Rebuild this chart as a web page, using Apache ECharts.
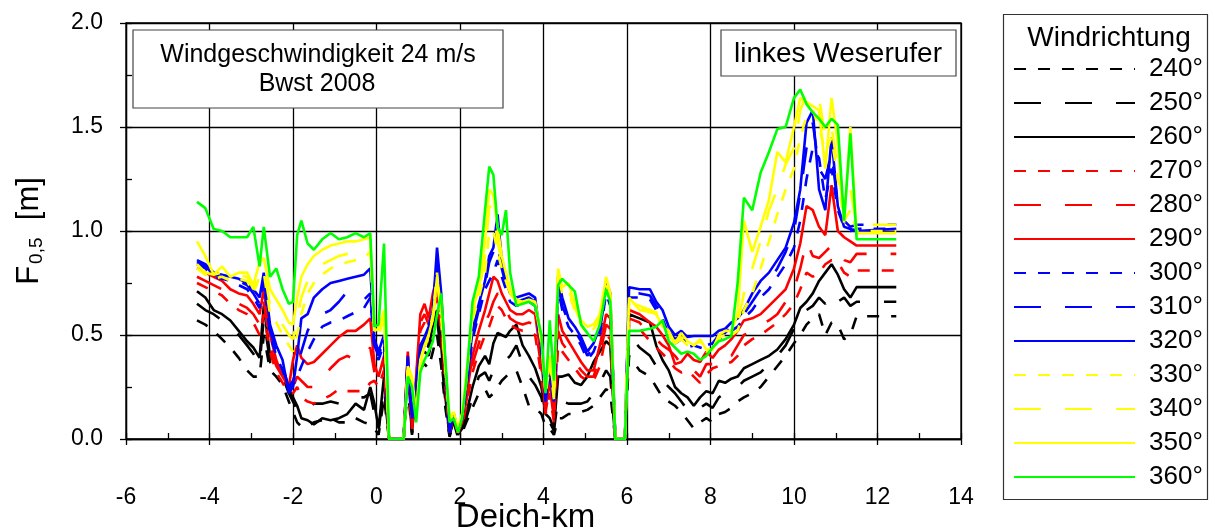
<!DOCTYPE html>
<html>
<head>
<meta charset="utf-8">
<script src="https://cdn.jsdelivr.net/npm/echarts@6/dist/echarts.min.js"></script>
<style>
  html, body { margin: 0; padding: 0; background: #fff; }
  #chart { width: 1215px; height: 529px; }
</style>
</head>
<body>
<div id="chart"></div>
<script>
// Deich-km stations
const km = [
  -4.3, -4.1, -3.9, -3.7, -3.5, -3.3, -3.1, -2.95, -2.8, -2.7,
  -2.55, -2.4, -2.25, -2.1, -2.0, -1.9, -1.8, -1.65, -1.5, -1.3,
  -1.1, -0.9, -0.7, -0.5, -0.3, -0.15, -0.05, 0.05, 0.18, 0.3,
  0.65, 0.75, 0.85, 0.95, 1.05, 1.15, 1.25, 1.35, 1.45, 1.55,
  1.65, 1.75, 1.85, 1.95, 2.05, 2.15, 2.3, 2.45, 2.6, 2.7,
  2.8, 2.9, 3.0, 3.1, 3.2, 3.35, 3.5, 3.65, 3.8, 3.95,
  4.05, 4.15, 4.25, 4.35, 4.45, 4.6, 4.75, 4.9, 5.05, 5.2,
  5.35, 5.5, 5.6, 5.72, 5.95, 6.05, 6.3, 6.55, 6.7, 6.85,
  7.0, 7.15, 7.3, 7.45, 7.6, 7.75, 7.9, 8.05, 8.2, 8.35,
  8.5, 8.65, 8.8, 9.0, 9.2, 9.4, 9.6, 9.8, 10.0, 10.15,
  10.3, 10.45, 10.6, 10.75, 10.9, 11.05, 11.2, 11.35, 11.5, 12.45
];

// F0,5 [m] per wind direction
const f240 = [
  0.57, 0.55, 0.52, 0.48, 0.44, 0.39, 0.33, 0.30, 0.30, 0.50,
  0.33, 0.30, 0.26, 0.18, 0.13, 0.08, 0.06, 0.06, 0.08, 0.09,
  0.10, 0.08, 0.08, 0.10, 0.08, 0.07, 0.05, 0.02, 0.20, 0,
  0, 0.25, 0.02, 0.16, 0.34, 0.36, 0.34, 0.42, 0.50, 0.35,
  0.15, 0.01, 0.08, 0.01, 0.03, 0.08, 0.15, 0.22, 0.24, 0.20,
  0.22, 0.25, 0.28, 0.30, 0.32, 0.33, 0.25, 0.16, 0.15, 0.12,
  0.06, 0.05, 0.02, 0.10, 0.10, 0.12, 0.12, 0.13, 0.14, 0.16,
  0.20, 0.24, 0.22, 0, 0, 0.40, 0.33, 0.30, 0.25, 0.20,
  0.18, 0.16, 0.13, 0.09, 0.05, 0.08, 0.10, 0.08, 0.12, 0.13,
  0.15, 0.18, 0.20, 0.22, 0.25, 0.30, 0.35, 0.40, 0.46, 0.50,
  0.55, 0.58, 0.60, 0.50, 0.56, 0.55, 0.48, 0.50, 0.59, 0.59
];
const f250 = [
  0.65, 0.62, 0.60, 0.57, 0.55, 0.50, 0.45, 0.41, 0.36, 0.58,
  0.37, 0.33, 0.30, 0.22, 0.18, 0.14, 0.12, 0.14, 0.17, 0.17,
  0.18, 0.17, 0.18, 0.20, 0.20, 0.22, 0.12, 0.04, 0.25, 0,
  0, 0.30, 0.03, 0.20, 0.40, 0.42, 0.40, 0.50, 0.58, 0.40,
  0.18, 0.02, 0.09, 0.02, 0.04, 0.10, 0.20, 0.30, 0.32, 0.28,
  0.33, 0.35, 0.36, 0.38, 0.40, 0.45, 0.36, 0.30, 0.26, 0.20,
  0.10, 0.08, 0.04, 0.20, 0.18, 0.17, 0.17, 0.17, 0.18, 0.22,
  0.27, 0.33, 0.30, 0, 0, 0.50, 0.44, 0.40, 0.35, 0.28,
  0.25, 0.22, 0.18, 0.14, 0.12, 0.15, 0.17, 0.15, 0.20, 0.22,
  0.24, 0.25, 0.28, 0.30, 0.32, 0.36, 0.40, 0.45, 0.53, 0.60,
  0.62, 0.64, 0.68, 0.65, 0.70, 0.66, 0.68, 0.64, 0.66, 0.66
];
const f260 = [
  0.71, 0.68, 0.62, 0.60, 0.57, 0.52, 0.47, 0.44, 0.39, 0.64,
  0.40, 0.36, 0.34, 0.24, 0.20, 0.16, 0.10, 0.09, 0.07, 0.10,
  0.09, 0.10, 0.12, 0.17, 0.14, 0.25, 0.17, 0.05, 0.30, 0,
  0, 0.35, 0.04, 0.22, 0.45, 0.48, 0.44, 0.55, 0.62, 0.45,
  0.20, 0.02, 0.10, 0.02, 0.05, 0.12, 0.25, 0.35, 0.40, 0.36,
  0.46, 0.51, 0.50, 0.49, 0.52, 0.55, 0.45, 0.40, 0.34, 0.25,
  0.12, 0.10, 0.05, 0.30, 0.30, 0.31, 0.27, 0.26, 0.30, 0.37,
  0.42, 0.47, 0.45, 0, 0, 0.60, 0.58, 0.56, 0.45, 0.38,
  0.33, 0.25, 0.22, 0.20, 0.16, 0.20, 0.23, 0.22, 0.28, 0.27,
  0.29, 0.30, 0.34, 0.36, 0.38, 0.40, 0.43, 0.48, 0.55, 0.63,
  0.66, 0.70, 0.76, 0.80, 0.84, 0.79, 0.72, 0.68, 0.73, 0.73
];
const f270 = [
  0.75, 0.73, 0.71, 0.69, 0.65, 0.62, 0.60, 0.56, 0.50, 0.60,
  0.42, 0.32, 0.27, 0.22, 0.22, 0.25, 0.20, 0.18, 0.17, 0.19,
  0.21, 0.24, 0.23, 0.23, 0.23, 0.27, 0.28, 0.25, 0.33, 0,
  0, 0.38, 0.05, 0.26, 0.52, 0.56, 0.52, 0.62, 0.68, 0.52,
  0.26, 0.03, 0.11, 0.03, 0.06, 0.16, 0.32, 0.42, 0.50, 0.54,
  0.60, 0.64, 0.62, 0.58, 0.55, 0.53, 0.52, 0.52, 0.50, 0.30,
  0.12, 0.22, 0.08, 0.45, 0.42, 0.38, 0.34, 0.30, 0.28, 0.28,
  0.35, 0.50, 0.48, 0, 0, 0.55, 0.53, 0.47, 0.44, 0.41,
  0.38, 0.34, 0.32, 0.33, 0.30, 0.27, 0.31, 0.34, 0.35, 0.36,
  0.37, 0.40, 0.45, 0.48, 0.50, 0.53, 0.56, 0.60, 0.65, 0.72,
  0.80, 0.78, 0.80, 0.84, 0.86, 0.85, 0.80, 0.78, 0.81, 0.81
];
const f280 = [
  0.78, 0.76, 0.74, 0.72, 0.68, 0.65, 0.63, 0.60, 0.55, 0.66,
  0.45, 0.35, 0.30, 0.24, 0.25, 0.30, 0.28, 0.25, 0.25, 0.29,
  0.34, 0.38, 0.40, 0.38, 0.40, 0.44, 0.32, 0.28, 0.36, 0,
  0, 0.40, 0.05, 0.28, 0.56, 0.60, 0.55, 0.66, 0.72, 0.56,
  0.28, 0.03, 0.12, 0.03, 0.07, 0.18, 0.36, 0.46, 0.56, 0.60,
  0.66, 0.70, 0.68, 0.62, 0.58, 0.56, 0.55, 0.56, 0.55, 0.34,
  0.13, 0.25, 0.10, 0.52, 0.46, 0.42, 0.37, 0.33, 0.30, 0.30,
  0.40, 0.55, 0.53, 0, 0, 0.58, 0.56, 0.50, 0.48, 0.45,
  0.43, 0.40, 0.36, 0.37, 0.33, 0.30, 0.36, 0.36, 0.40, 0.41,
  0.40, 0.45, 0.50, 0.52, 0.55, 0.57, 0.60, 0.66, 0.72, 0.82,
  0.95, 0.88, 0.87, 0.90, 0.93, 0.92, 0.86, 0.85, 0.89, 0.89
];
const f290 = [
  0.82, 0.80, 0.78, 0.76, 0.72, 0.70, 0.69, 0.65, 0.60, 0.72,
  0.50, 0.38, 0.30, 0.25, 0.38, 0.45, 0.39, 0.36, 0.37, 0.41,
  0.45, 0.49, 0.52, 0.52, 0.55, 0.58, 0.36, 0.30, 0.40, 0,
  0, 0.42, 0.05, 0.30, 0.60, 0.65, 0.58, 0.70, 0.78, 0.60,
  0.30, 0.03, 0.12, 0.03, 0.08, 0.20, 0.40, 0.52, 0.62, 0.70,
  0.78, 0.76, 0.70, 0.66, 0.62, 0.60, 0.60, 0.62, 0.60, 0.38,
  0.15, 0.28, 0.12, 0.60, 0.52, 0.47, 0.42, 0.37, 0.33, 0.33,
  0.45, 0.60, 0.58, 0, 0, 0.62, 0.60, 0.56, 0.54, 0.50,
  0.45, 0.36, 0.37, 0.41, 0.38, 0.37, 0.42, 0.39, 0.43, 0.45,
  0.48, 0.52, 0.57, 0.58, 0.60, 0.64, 0.68, 0.72, 0.82, 0.94,
  1.12, 1.10, 1.02, 0.98, 1.22, 1.00, 0.97, 0.95, 0.93, 0.93
];
const f300 = [
  0.84, 0.82, 0.78, 0.77, 0.76, 0.74, 0.72, 0.68, 0.63, 0.76,
  0.50, 0.40, 0.33, 0.24, 0.26, 0.30, 0.35, 0.42, 0.48, 0.54,
  0.56, 0.57, 0.59, 0.61, 0.63, 0.68, 0.43, 0.38, 0.46, 0,
  0, 0.37, 0.10, 0.24, 0.40, 0.45, 0.50, 0.58, 0.85, 0.64,
  0.32, 0.05, 0.12, 0.04, 0.10, 0.24, 0.48, 0.60, 0.72, 0.76,
  0.80, 0.86, 0.78, 0.72, 0.66, 0.64, 0.65, 0.66, 0.64, 0.42,
  0.18, 0.31, 0.16, 0.72, 0.62, 0.54, 0.50, 0.45, 0.38, 0.42,
  0.50, 0.70, 0.64, 0, 0, 0.68, 0.68, 0.67, 0.62, 0.58,
  0.50, 0.46, 0.48, 0.44, 0.45, 0.44, 0.43, 0.45, 0.48, 0.50,
  0.52, 0.54, 0.58, 0.62, 0.68, 0.72, 0.78, 0.84, 0.92, 1.05,
  1.25, 1.40, 1.35, 1.15, 1.30, 1.10, 1.02, 1.00, 1.01, 1.01
];
const f310 = [
  0.85, 0.83, 0.79, 0.78, 0.77, 0.76, 0.74, 0.70, 0.65, 0.78,
  0.52, 0.42, 0.35, 0.25, 0.28, 0.35, 0.42, 0.52, 0.58, 0.60,
  0.62, 0.66, 0.71, 0.69, 0.67, 0.70, 0.45, 0.40, 0.48, 0,
  0, 0.38, 0.10, 0.25, 0.42, 0.47, 0.52, 0.60, 0.88, 0.66,
  0.33, 0.05, 0.12, 0.04, 0.10, 0.25, 0.50, 0.62, 0.74, 0.85,
  0.90, 0.95, 0.82, 0.74, 0.68, 0.66, 0.67, 0.68, 0.66, 0.44,
  0.19, 0.33, 0.17, 0.74, 0.64, 0.56, 0.52, 0.47, 0.40, 0.44,
  0.52, 0.72, 0.66, 0, 0, 0.70, 0.70, 0.69, 0.64, 0.60,
  0.52, 0.48, 0.50, 0.46, 0.47, 0.46, 0.45, 0.46, 0.50, 0.51,
  0.54, 0.56, 0.60, 0.66, 0.72, 0.76, 0.82, 0.90, 1.00, 1.18,
  1.40, 1.52, 1.30, 1.25, 1.38, 1.12, 1.05, 1.02, 1.03, 1.03
];
const f320 = [
  0.86, 0.84, 0.80, 0.79, 0.78, 0.77, 0.75, 0.72, 0.68, 0.80,
  0.55, 0.45, 0.38, 0.22, 0.25, 0.40, 0.58, 0.60, 0.68, 0.72,
  0.75, 0.76, 0.77, 0.78, 0.79, 0.82, 0.48, 0.42, 0.50, 0,
  0, 0.40, 0.10, 0.27, 0.45, 0.49, 0.54, 0.62, 0.92, 0.70,
  0.35, 0.03, 0.12, 0.04, 0.10, 0.26, 0.52, 0.65, 0.76, 0.88,
  0.92, 1.08, 0.86, 0.76, 0.70, 0.68, 0.69, 0.70, 0.68, 0.45,
  0.20, 0.35, 0.18, 0.78, 0.68, 0.58, 0.54, 0.49, 0.42, 0.46,
  0.54, 0.76, 0.70, 0, 0, 0.73, 0.72, 0.72, 0.66, 0.62,
  0.54, 0.50, 0.52, 0.49, 0.495, 0.495, 0.495, 0.495, 0.52, 0.53,
  0.56, 0.58, 0.62, 0.70, 0.76, 0.80, 0.86, 0.92, 1.04, 1.20,
  1.52, 1.58, 1.20, 1.10, 1.45, 1.12, 1.02, 1.01, 1.00, 1.01
];
const f330 = [
  0.82, 0.79, 0.77, 0.78, 0.76, 0.77, 0.76, 0.70, 0.78, 0.80,
  0.60, 0.56, 0.50, 0.45, 0.42, 0.50, 0.60, 0.70, 0.75, 0.79,
  0.82, 0.84, 0.85, 0.86, 0.87, 0.90, 0.50, 0.50, 0.58, 0,
  0, 0.33, 0.27, 0.11, 0.36, 0.43, 0.50, 0.60, 0.80, 0.58,
  0.33, 0.09, 0.12, 0.04, 0.11, 0.28, 0.57, 0.68, 0.80, 1.00,
  1.00, 0.90, 0.82, 0.76, 0.70, 0.66, 0.65, 0.66, 0.65, 0.46,
  0.21, 0.36, 0.19, 0.79, 0.70, 0.70, 0.62, 0.55, 0.50, 0.53,
  0.57, 0.74, 0.68, 0, 0, 0.65, 0.63, 0.62, 0.60, 0.55,
  0.50, 0.47, 0.49, 0.46, 0.45, 0.47, 0.44, 0.44, 0.48, 0.49,
  0.50, 0.52, 0.62, 0.70, 0.82, 0.95, 1.08, 1.20, 1.30, 1.45,
  1.55, 1.58, 1.50, 1.38, 1.45, 1.25, 1.05, 1.10, 1.00, 1.00
];
const f340 = [
  0.84, 0.80, 0.79, 0.80, 0.78, 0.79, 0.78, 0.72, 0.80, 0.82,
  0.64, 0.60, 0.55, 0.50, 0.48, 0.58, 0.68, 0.76, 0.80, 0.84,
  0.86, 0.88, 0.89, 0.90, 0.91, 0.93, 0.50, 0.50, 0.60, 0,
  0, 0.33, 0.28, 0.12, 0.37, 0.44, 0.50, 0.58, 0.76, 0.60,
  0.34, 0.10, 0.13, 0.05, 0.12, 0.30, 0.60, 0.70, 0.88, 1.12,
  1.10, 0.95, 0.85, 0.78, 0.70, 0.66, 0.65, 0.66, 0.65, 0.47,
  0.22, 0.38, 0.20, 0.80, 0.72, 0.72, 0.63, 0.56, 0.52, 0.54,
  0.58, 0.76, 0.69, 0, 0, 0.66, 0.64, 0.62, 0.61, 0.55,
  0.50, 0.46, 0.48, 0.45, 0.44, 0.46, 0.42, 0.43, 0.49, 0.50,
  0.51, 0.55, 0.70, 0.82, 0.95, 1.10, 1.20, 1.32, 1.40, 1.58,
  1.66, 1.66, 1.64, 1.45, 1.50, 1.30, 1.10, 1.20, 1.03, 1.03
];
const f350 = [
  0.95, 0.88, 0.79, 0.83, 0.78, 0.80, 0.80, 0.74, 0.85, 0.87,
  0.72, 0.67, 0.62, 0.56, 0.55, 0.68, 0.78, 0.84, 0.88, 0.91,
  0.93, 0.94, 0.95, 0.95, 0.96, 0.97, 0.52, 0.53, 0.62, 0,
  0, 0.35, 0.30, 0.12, 0.38, 0.45, 0.50, 0.58, 0.78, 0.62,
  0.35, 0.10, 0.13, 0.05, 0.12, 0.30, 0.62, 0.72, 0.95, 1.20,
  1.17, 1.02, 0.88, 0.80, 0.72, 0.67, 0.66, 0.67, 0.66, 0.48,
  0.23, 0.40, 0.22, 0.82, 0.73, 0.75, 0.65, 0.57, 0.54, 0.55,
  0.60, 0.78, 0.70, 0, 0, 0.68, 0.62, 0.61, 0.60, 0.54,
  0.52, 0.46, 0.51, 0.47, 0.45, 0.48, 0.43, 0.43, 0.50, 0.52,
  0.52, 0.60, 1.05, 0.90, 1.02, 1.15, 1.38, 1.33, 1.50, 1.64,
  1.62, 1.60, 1.58, 1.30, 1.64, 1.42, 1.04, 1.50, 0.99, 0.99
];
const f360 = [
  1.14, 1.11, 1.01, 1.00, 0.97, 0.97, 0.97, 1.02, 0.83, 1.02,
  0.78, 0.82, 0.72, 0.65, 0.66, 0.98, 1.05, 0.94, 0.91, 0.96,
  0.99, 0.96, 0.97, 0.99, 0.97, 0.99, 0.54, 0.55, 0.94, 0,
  0, 0.30, 0.25, 0.08, 0.32, 0.38, 0.42, 0.47, 0.60, 0.70,
  0.38, 0.08, 0.10, 0.03, 0.10, 0.28, 0.66, 0.78, 1.10, 1.31,
  1.27, 1.02, 0.98, 1.10, 0.80, 0.64, 0.65, 0.66, 0.64, 0.50,
  0.22, 0.57, 0.28, 0.74, 0.77, 0.74, 0.71, 0.55, 0.51, 0.47,
  0.55, 0.72, 0.66, 0, 0, 0.52, 0.52, 0.53, 0.54, 0.57,
  0.47, 0.44, 0.41, 0.42, 0.41, 0.38, 0.40, 0.44, 0.47, 0.48,
  0.495, 0.75, 1.16, 1.10, 1.28, 1.38, 1.49, 1.50, 1.64, 1.68,
  1.61, 1.57, 1.54, 1.50, 1.54, 1.51, 1.05, 1.47, 0.96, 0.96
];

const directions = ['240°', '250°', '260°', '270°', '280°', '290°', '300°',
                    '310°', '320°', '330°', '340°', '350°', '360°'];
const values = [f240, f250, f260, f270, f280, f290, f300,
                f310, f320, f330, f340, f350, f360];
const yTicks = ['0.0', '0.5', '1.0', '1.5', '2.0'];

// line styles: colour group per 30°, dash pattern within the group
const palette = ['#000000', '#000000', '#000000', '#ff0000', '#ff0000', '#ff0000',
                 '#0000ff', '#0000ff', '#0000ff', '#ffff00', '#ffff00', '#ffff00', '#00ff00'];
const dashes = [[12, 12], [27, 24], 'solid', [12, 12], [27, 24], 'solid',
                [12, 12], [27, 24], 'solid', [12, 12], [27, 24], 'solid', 'solid'];

const FONT = 'Liberation Sans, Arial, Helvetica, sans-serif';

const series = directions.map((name, k) => ({
  name: name,
  type: 'line',
  xAxisIndex: 0,
  yAxisIndex: 0,
  symbol: 'none',
  showSymbol: false,
  data: km.map((x, i) => [x, values[k][i]]),
  lineStyle: { color: palette[k], width: 2.6, type: dashes[k] },
  itemStyle: { color: palette[k] },
  emphasis: { disabled: true }
}));

const tickLine = { color: '#000', width: 1.3 };

const chart = echarts.init(document.getElementById('chart'), null, { renderer: 'canvas' });
chart.setOption({
  animation: false,
  backgroundColor: '#fff',
  grid: {
    left: 126, right: 254, top: 23, bottom: 90,
    containLabel: false, outerBoundsMode: 'none',
    show: true, borderColor: '#000', borderWidth: 1.3, backgroundColor: 'transparent'
  },
  xAxis: [{
    type: 'value', min: -6, max: 14, interval: 2, position: 'bottom',
    name: 'Deich-km', nameLocation: 'middle', nameGap: 62, nameMoveOverlap: false,
    nameTextStyle: { fontSize: 33, fontFamily: FONT, color: '#000', verticalAlign: 'top',
                     padding: [0, 36, 0, 0] },
    axisLine: { show: true, onZero: false, lineStyle: tickLine },
    axisTick: { show: true, inside: false, length: 6, lineStyle: tickLine },
    axisLabel: { fontSize: 23, fontFamily: FONT, color: '#000', margin: 47 },
    splitLine: { show: true, lineStyle: { color: '#000', width: 1.3 } }
  }, {
    type: 'value', min: -6, max: 14, interval: 2, position: 'bottom',
    axisLine: { show: false, onZero: false },
    axisTick: { show: true, inside: true, length: 6, lineStyle: tickLine },
    minorTick: { show: true, splitNumber: 2, length: 6, lineStyle: tickLine },
    axisLabel: { show: false },
    splitLine: { show: false }
  }],
  yAxis: [{
    type: 'value', min: 0, max: 2, interval: 0.5, position: 'left',
    name: '{f|F}{s|0,5}{f|  [m]}', nameLocation: 'middle', nameGap: 80, nameMoveOverlap: false,
    nameTextStyle: {
      color: '#000',
      rich: {
        f: { fontSize: 31, fontFamily: FONT, color: '#000', lineHeight: 34 },
        s: { fontSize: 19, fontFamily: FONT, color: '#000', verticalAlign: 'bottom', lineHeight: 34, padding: [0, 0, 0, 2] }
      }
    },
    axisLine: { show: true, onZero: false, lineStyle: tickLine },
    axisTick: { show: true, inside: false, length: 6, lineStyle: tickLine },
    axisLabel: {
      fontSize: 23, fontFamily: FONT, color: '#000', margin: 23,
      formatter: v => yTicks[Math.round(v / 0.5)]
    },
    splitLine: { show: true, lineStyle: { color: '#000', width: 1.3 } }
  }, {
    type: 'value', min: 0, max: 2, interval: 0.5, position: 'left',
    axisLine: { show: false, onZero: false },
    axisTick: { show: true, inside: true, length: 6, lineStyle: tickLine },
    minorTick: { show: true, splitNumber: 2, length: 6, lineStyle: tickLine },
    axisLabel: { show: false },
    splitLine: { show: false }
  }],
  legend: {
    orient: 'vertical', left: 1008, top: 51,
    itemWidth: 121, itemHeight: 12, itemGap: 8,
    selectedMode: false,
    itemStyle: { color: 'transparent', borderWidth: 0, opacity: 0 },
    textStyle: { fontSize: 26, fontFamily: FONT, color: '#000', padding: [0, 0, 0, 9] },
    data: directions
  },
  graphic: [
    // legend frame and heading
    { type: 'rect', left: 1001, top: 12, shape: { width: 204, height: 485 },
      style: { fill: 'none', stroke: '#333', lineWidth: 1.2 }, silent: true },
    { type: 'text', x: 1109, y: 38, silent: true,
      style: { text: 'Windrichtung', fontSize: 28, fontFamily: FONT, fill: '#000',
               align: 'center', verticalAlign: 'middle' } },
    // scenario note
    { type: 'rect', x: 133, y: 30, shape: { width: 370, height: 78 }, z: 100,
      style: { fill: '#fff', stroke: '#444', lineWidth: 1.2 }, silent: true },
    { type: 'text', x: 318, y: 55, z: 101, silent: true,
      style: { text: 'Windgeschwindigkeit 24 m/s', fontSize: 25, fontFamily: FONT, fill: '#000',
               align: 'center', verticalAlign: 'middle' } },
    { type: 'text', x: 317, y: 84, z: 101, silent: true,
      style: { text: 'Bwst 2008', fontSize: 25, fontFamily: FONT, fill: '#000',
               align: 'center', verticalAlign: 'middle' } },
    // river bank note
    { type: 'rect', x: 721, y: 30, shape: { width: 235, height: 46 }, z: 100,
      style: { fill: '#fff', stroke: '#444', lineWidth: 1.2 }, silent: true },
    { type: 'text', x: 838, y: 54, z: 101, silent: true,
      style: { text: 'linkes Weserufer', fontSize: 28, fontFamily: FONT, fill: '#000',
               align: 'center', verticalAlign: 'middle' } }
  ],
  series: series
});
</script>
</body>
</html>
